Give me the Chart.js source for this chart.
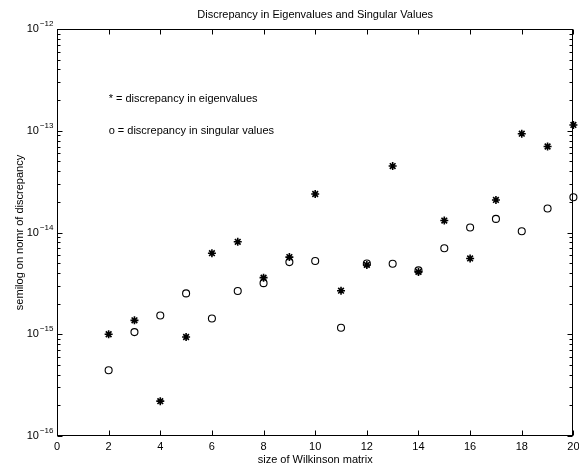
<!DOCTYPE html>
<html>
<head>
<meta charset="utf-8">
<script src="https://cdn.jsdelivr.net/npm/chart.js@4/dist/chart.umd.min.js"></script>
<style>
  html, body { margin: 0; padding: 0; background: #fff; }
  #wrap { width: 579px; height: 467px; }
</style>
</head>
<body>
<div id="wrap"><canvas id="myChart" width="579" height="467"></canvas></div>
<script>
// matrix sizes
const matrixSizes = [2, 3, 4, 5, 6, 7, 8, 9, 10, 11, 12, 13, 14, 15, 16, 17, 18, 19, 20];
// * = discrepancy in eigenvalues
const eigDiscrepancy = [1.0e-15, 1.37e-15, 2.2e-16, 9.4e-16, 6.26e-15, 8.1e-15, 3.6e-15, 5.73e-15, 2.39e-14,
  2.68e-15, 4.8e-15, 4.5e-14, 4.1e-15, 1.31e-14, 5.56e-15, 2.09e-14, 9.35e-14, 7.0e-14, 1.14e-13];
// o = discrepancy in singular values
const svdDiscrepancy = [4.43e-16, 1.05e-15, 1.53e-15, 2.52e-15, 1.43e-15, 2.66e-15, 3.18e-15, 5.12e-15, 5.24e-15,
  1.16e-15, 4.95e-15, 4.93e-15, 4.24e-15, 7.0e-15, 1.12e-14, 1.36e-14, 1.03e-14, 1.72e-14, 2.22e-14];

const xTicks = [0, 2, 4, 6, 8, 10, 12, 14, 16, 18, 20];
const yExponents = [-16, -15, -14, -13, -12];

const titleText = "Discrepancy in Eigenvalues and Singular Values";
const xTitle = "size of Wilkinson matrix";
const yTitle = "semilog on nomr of discrepancy";
const notes = [
  { x: 2, y: 2.05e-13, text: "* = discrepancy in eigenvalues" },
  { x: 2, y: 1.0e-13, text: "o = discrepancy in singular values" },
];

const FONT = '"Liberation Sans", Arial, Helvetica, sans-serif';

const toPoints = (xs, ys) => xs.map((x, i) => ({ x: x, y: ys[i] }));

// axes box, ticks, labels drawn by hand (matlab look)
const matlabAxes = {
  id: "matlabAxes",
  afterDraw(chart) {
    const ctx = chart.ctx;
    const a = chart.chartArea;
    const xs = chart.scales.x;
    const ys = chart.scales.y;
    const L = Math.round(a.left) + 0.5, R = Math.round(a.right) - 0.5;
    const T = Math.round(a.top) + 0.5, B = Math.round(a.bottom) - 0.5;

    ctx.save();
    ctx.strokeStyle = "#000";
    ctx.lineWidth = 1;
    ctx.strokeRect(L, T, R - L, B - T);

    ctx.beginPath();
    // x ticks top and bottom
    xTicks.forEach(v => {
      const px = Math.round(xs.getPixelForValue(v)) + 0.5;
      ctx.moveTo(px, B); ctx.lineTo(px, B - 5);
      ctx.moveTo(px, T); ctx.lineTo(px, T + 5);
    });
    // y ticks, major + minor, left and right
    yExponents.forEach((e, i) => {
      const py = Math.round(ys.getPixelForValue(Math.pow(10, e))) + 0.5;
      ctx.moveTo(L, py); ctx.lineTo(L + 5, py);
      ctx.moveTo(R, py); ctx.lineTo(R - 5, py);
      if (i < yExponents.length - 1) {
        for (let m = 2; m <= 9; m++) {
          const my = Math.round(ys.getPixelForValue(m * Math.pow(10, e))) + 0.5;
          ctx.moveTo(L, my); ctx.lineTo(L + 3, my);
          ctx.moveTo(R, my); ctx.lineTo(R - 3, my);
        }
      }
    });
    ctx.stroke();

    ctx.fillStyle = "#000";
    // x tick labels
    ctx.font = "11px " + FONT;
    ctx.textAlign = "center";
    ctx.textBaseline = "middle";
    xTicks.forEach(v => {
      ctx.fillText(String(v), xs.getPixelForValue(v), B + 11);
    });

    // y tick labels 10^e
    yExponents.forEach(e => {
      const py = ys.getPixelForValue(Math.pow(10, e));
      ctx.font = "8px " + FONT;
      const sup = "\u2212" + Math.abs(e);
      const supW = ctx.measureText(sup).width;
      ctx.textAlign = "left";
      ctx.fillText(sup, L - 4 - supW, py - 5);
      ctx.font = "11px " + FONT;
      ctx.textAlign = "right";
      ctx.fillText("10", L - 5 - supW, py);
    });

    // title and axis titles
    const cx = (a.left + a.right) / 2;
    ctx.font = "11px " + FONT;
    ctx.textAlign = "center";
    ctx.fillText(titleText, cx, 15);
    ctx.fillText(xTitle, cx, B + 24);
    ctx.save();
    ctx.translate(20, (a.top + a.bottom) / 2);
    ctx.rotate(-Math.PI / 2);
    ctx.fillText(yTitle, 0, 0);
    ctx.restore();

    // text notes in data coordinates
    ctx.textAlign = "left";
    notes.forEach(n => {
      ctx.fillText(n.text, xs.getPixelForValue(n.x), ys.getPixelForValue(n.y));
    });
    ctx.restore();
  }
};

document.addEventListener("DOMContentLoaded", () => {
  const ctx = document.getElementById("myChart");
  const myChart = new Chart(ctx, {
    type: "scatter",
    data: {
      datasets: [
        {
          label: "eigenvalues",
          data: toPoints(matrixSizes, eigDiscrepancy),
          pointStyle: "star",
          pointRadius: 4,
          borderColor: "#000",
          backgroundColor: "#000",
          pointBorderWidth: 1.6,
          clip: false,
        },
        {
          label: "singular values",
          data: toPoints(matrixSizes, svdDiscrepancy),
          pointStyle: "circle",
          pointRadius: 3.5,
          borderColor: "#000",
          backgroundColor: "rgba(0,0,0,0)",
          pointBorderWidth: 1.1,
          clip: false,
        },
      ],
    },
    options: {
      responsive: false,
      animation: false,
      devicePixelRatio: 1,
      layout: { padding: { left: 57, right: 3, top: 29, bottom: 31 } },
      plugins: { legend: { display: false }, tooltip: { enabled: false } },
      scales: {
        x: { type: "linear", min: 0, max: 20, display: false },
        y: { type: "logarithmic", min: 1e-16, max: 1e-12, display: false },
      },
    },
    plugins: [matlabAxes],
  });
});
</script>
</body>
</html>
